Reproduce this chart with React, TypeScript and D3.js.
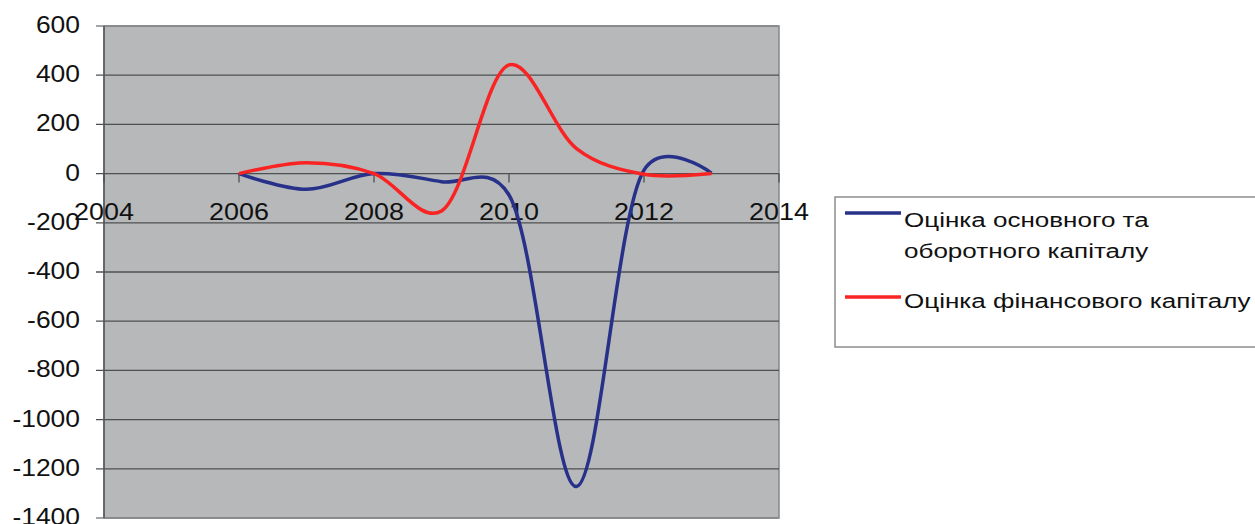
import React, { useEffect, useRef } from "react";
import * as d3 from "d3";

const years = [2006, 2007, 2008, 2009, 2010, 2011, 2012, 2013];
const fixedWorkingCapital = [0, -64, 0, -33, -87, -1272, 14, 2];
const financialCapital = [0, 44, 0, -152, 442, 102, -3, 0];
const xTicks = [2004, 2006, 2008, 2010, 2012, 2014];
const yTicks = [600, 400, 200, 0, -200, -400, -600, -800, -1000, -1200, -1400];
const seriesNames = ["Оцінка основного та", "оборотного капіталу", "Оцінка фінансового капіталу"];

const W = 1255;
const H = 524;
const plot = { left: 104, right: 779, top: 26, bottom: 518 };
const FONT = "'Liberation Sans', Arial, sans-serif";

export default function App() {
  const ref = useRef<SVGSVGElement>(null);
  useEffect(() => {
    const svg = d3.select(ref.current);
    svg.selectAll("*").remove();
    const x = d3.scaleLinear().domain([2004, 2014]).range([plot.left, plot.right]);
    const y = d3.scaleLinear().domain([-1400, 600]).range([plot.bottom, plot.top]);

    svg.append("rect").attr("width", W).attr("height", H).attr("fill", "#ffffff");
    svg
      .append("rect")
      .attr("x", plot.left)
      .attr("y", plot.top)
      .attr("width", plot.right - plot.left)
      .attr("height", plot.bottom - plot.top)
      .attr("fill", "#b6b8b9")
      .attr("stroke", "#858789")
      .attr("stroke-width", 1.5);

    // gridlines
    svg
      .append("g")
      .selectAll("line")
      .data(yTicks)
      .join("line")
      .attr("x1", plot.left - 8)
      .attr("x2", plot.right)
      .attr("y1", (d) => y(d))
      .attr("y2", (d) => y(d))
      .attr("stroke", (d) => (d === 600 || d === -1400 ? "#858789" : "#4e5052"))
      .attr("stroke-width", 1.3);

    // y axis line
    svg
      .append("line")
      .attr("x1", plot.left)
      .attr("x2", plot.left)
      .attr("y1", plot.top)
      .attr("y2", plot.bottom)
      .attr("stroke", "#555759")
      .attr("stroke-width", 1.5);

    // y labels
    svg
      .append("g")
      .selectAll("text")
      .data(yTicks)
      .join("text")
      .attr("transform", (d) => `translate(80,${y(d)}) scale(1.15,1)`)
      .attr("dy", "0.3em")
      .attr("text-anchor", "end")
      .attr("font-family", FONT)
      .attr("font-size", 23)
      .attr("fill", "#111")
      .text((d) => String(d));

    // x ticks at zero line
    svg
      .append("g")
      .selectAll("line")
      .data(xTicks)
      .join("line")
      .attr("x1", (d) => x(d))
      .attr("x2", (d) => x(d))
      .attr("y1", y(0))
      .attr("y2", y(0) + 9)
      .attr("stroke", "#4e5052")
      .attr("stroke-width", 1.3);

    svg
      .append("g")
      .selectAll("text")
      .data(xTicks)
      .join("text")
      .attr("transform", (d) => `translate(${x(d)},220) scale(1.17,1)`)
      .attr("text-anchor", "middle")
      .attr("font-family", FONT)
      .attr("font-size", 23)
      .attr("fill", "#111")
      .text((d) => String(d));

    const line = d3
      .line<number>()
      .x((_, i) => x(years[i]))
      .y((d) => y(d))
      .curve(d3.curveCatmullRom.alpha(0.2));

    svg
      .append("path")
      .datum(fixedWorkingCapital)
      .attr("d", line)
      .attr("fill", "none")
      .attr("stroke", "#27318a")
      .attr("stroke-width", 3.5)
      .attr("stroke-linejoin", "round");
    svg
      .append("path")
      .datum(financialCapital)
      .attr("d", line)
      .attr("fill", "none")
      .attr("stroke", "#fa2323")
      .attr("stroke-width", 3.5)
      .attr("stroke-linejoin", "round");

    // legend
    const lg = svg.append("g");
    lg.append("rect")
      .attr("x", 835)
      .attr("y", 197)
      .attr("width", 430)
      .attr("height", 150)
      .attr("fill", "#fff")
      .attr("stroke", "#7a7c7e")
      .attr("stroke-width", 1.3);
    lg.append("line")
      .attr("x1", 845)
      .attr("x2", 901)
      .attr("y1", 213)
      .attr("y2", 213)
      .attr("stroke", "#27318a")
      .attr("stroke-width", 3.5);
    lg.append("line")
      .attr("x1", 845)
      .attr("x2", 901)
      .attr("y1", 297)
      .attr("y2", 297)
      .attr("stroke", "#fa2323")
      .attr("stroke-width", 3.5);
    const ty = [227, 258, 308];
    seriesNames.forEach((s, i) => {
      lg.append("text")
        .attr("transform", `translate(904,${ty[i]}) scale(1.24,1)`)
        .attr("font-family", FONT)
        .attr("font-size", 21)
        .attr("fill", "#111")
        .text(s);
    });
  }, []);
  return (
    <svg
      ref={ref}
      width={W}
      height={H}
      style={{ position: "absolute", left: 0, top: 0, display: "block" }}
    />
  );
}
